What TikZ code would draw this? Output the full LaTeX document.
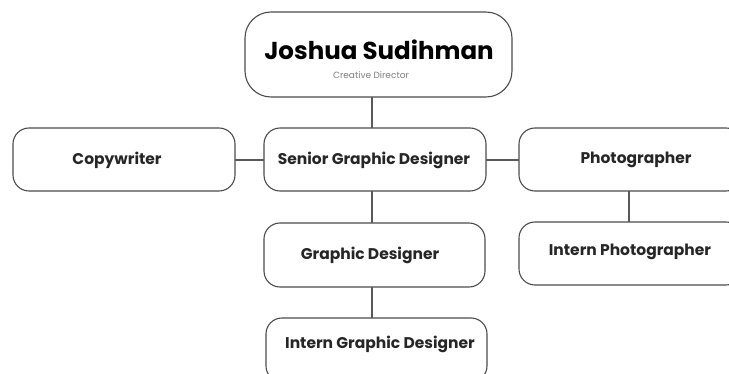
\documentclass[tikz,border=0pt]{standalone}
\usepackage{fontspec}
\setmainfont{Poppins}
\begin{document}
\begin{tikzpicture}[x=1pt,y=-1pt,
  box/.style={draw=black!70, line width=1.1pt, rounded corners=16pt, fill=white},
  lbl/.style={font=\fontsize{15.5}{18}\selectfont\bfseries, text=black!85},
  link/.style={draw=black!65, line width=1.1pt}]
\useasboundingbox (0,0) rectangle (729,374);
% boxes
\draw[box, rounded corners=26pt] (245,12) rectangle (512,97);
\coordinate (topS) at (372,97);
\node[font=\fontsize{24.5}{28}\selectfont\bfseries, text=black] (name) at (379,50) {Joshua Sudihman};
\node[font=\fontsize{9}{11}\selectfont, text=black!50] (role) at (371,75) {Creative Director};

\draw[box] (13,128) rectangle (235,191);
\node[lbl] (copy) at (117,160) {Copywriter};
\coordinate (copyE) at (235,160);

\draw[box] (264,128) rectangle (486,191);
\node[lbl] (senior) at (374,160) {Senior Graphic Designer};
\coordinate (srN) at (372,128);
\coordinate (srS) at (372,191);
\coordinate (srW) at (264,160);
\coordinate (srE) at (486,160);

\draw[box] (519,128) rectangle (742,191);
\node[lbl] (photo) at (636,160) {Photographer};
\coordinate (phW) at (519,160);
\coordinate (phS) at (629,191);

\draw[box] (519,222) rectangle (742,285);
\node[lbl] (iphoto) at (630,252) {Intern Photographer};
\coordinate (ipN) at (629,222);

\draw[box] (264,223) rectangle (485,287);
\node[lbl] (gd) at (370,255) {Graphic Designer};
\coordinate (gdN) at (372,223);
\coordinate (gdS) at (372,287);

\draw[box] (266,318) rectangle (487,382);
\node[lbl] (igd) at (380,344) {Intern Graphic Designer};
\coordinate (igdN) at (372,318);

% connectors
\draw[link] (topS) -- (srN);
\draw[link] (srW) -- (copyE);
\draw[link] (srE) -- (phW);
\draw[link] (srS) -- (gdN);
\draw[link] (gdS) -- (igdN);
\draw[link] (phS) -- (ipN);
\end{tikzpicture}
\end{document}
